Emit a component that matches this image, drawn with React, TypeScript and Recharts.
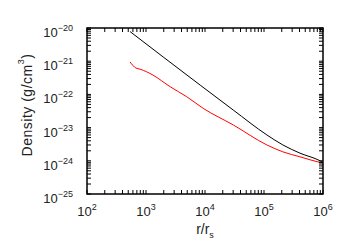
import React from 'react';
import { LineChart, Line, XAxis, YAxis, ReferenceArea } from 'recharts';

// radius in units of r_s, density in g/cm^3
const blackR = [537, 2000, 8300, 30000, 112000, 209000, 407000, 891000, 1000000];
const blackDensity = [7.8e-21, 1.3e-21, 1.9e-22, 3.4e-23, 6.0e-24, 3.0e-24, 1.7e-24, 1.0e-24, 8.9e-25];

const redR = [537, 676, 794, 1023, 1318, 2570, 4900, 9330, 30200, 112000, 209000, 407000, 891000, 1000000];
const redDensity = [9.5e-22, 6.2e-22, 5.75e-22, 4.8e-22, 3.8e-22, 1.7e-22, 8.5e-23, 3.8e-23, 1.2e-23, 3.0e-24, 1.86e-24, 1.32e-24, 8.9e-25, 8.5e-25];

const xMajor = [1e2, 1e3, 1e4, 1e5, 1e6];
const xExponents = ['2', '3', '4', '5', '6'];
const yMajor = [1e-25, 1e-24, 1e-23, 1e-22, 1e-21, 1e-20];
const yExponents = ['\u221225', '\u221224', '\u221223', '\u221222', '\u221221', '\u221220'];

const minorSteps = [2, 3, 4, 5, 6, 7, 8, 9];
const withMinor = (major: number[]) => {
  const out: number[] = [];
  major.forEach((m, i) => {
    out.push(m);
    if (i < major.length - 1) minorSteps.forEach((s) => out.push(m * s));
  });
  return out;
};
const xTicks = withMinor(xMajor);
const yTicks = withMinor(yMajor);

const blackData = blackR.map((r, i) => ({ r, d: blackDensity[i] }));
const redData = redR.map((r, i) => ({ r, d: redDensity[i] }));

const font = '"Liberation Sans", Arial, sans-serif';
const TICK = -4; // negative size draws tick marks inward

const majorIndex = (v: number, list: number[]) =>
  list.findIndex((m) => Math.abs(Math.log10(v) - Math.log10(m)) < 1e-6);

const XLabel = (props: any) => {
  const { x, y, payload } = props;
  const idx = majorIndex(payload.value, xMajor);
  if (idx < 0) return <g />;
  return (
    <text x={x} y={y + 22 + TICK * -1} textAnchor="middle" fontSize={13} fontFamily={font} fill="#222">
      10<tspan dy={-6} fontSize={9}>{xExponents[idx]}</tspan>
    </text>
  );
};

const YLabel = (props: any) => {
  const { x, y, payload } = props;
  const idx = majorIndex(payload.value, yMajor);
  if (idx < 0) return <g />;
  return (
    <text x={x - 14 + TICK} y={y + 9} textAnchor="end" fontSize={13} fontFamily={font} fill="#222">
      10<tspan dy={-6} fontSize={9}>{yExponents[idx]}</tspan>
    </text>
  );
};

const Blank = () => <g />;

export default function App() {
  return (
    <div style={{ position: 'absolute', left: 0, top: 0, width: 350, height: 250, background: '#fff' }}>
      <LineChart width={350} height={250} margin={{ top: 27, right: 26, bottom: 0, left: 0 }}>
        <XAxis
          xAxisId="b"
          dataKey="r"
          type="number"
          scale="log"
          domain={[1e2, 1e6]}
          allowDataOverflow
          ticks={xTicks}
          interval={0}
          height={56}
          tickSize={TICK}
          tickMargin={0}
          stroke="#000"
          axisLine={false}
          tick={<XLabel />}
        />
        <XAxis
          xAxisId="t"
          orientation="top"
          dataKey="r"
          type="number"
          scale="log"
          domain={[1e2, 1e6]}
          allowDataOverflow
          ticks={xTicks}
          interval={0}
          height={1}
          tickSize={TICK}
          tickMargin={0}
          stroke="#000"
          axisLine={false}
          tick={<Blank />}
        />
        <YAxis
          yAxisId="l"
          type="number"
          scale="log"
          domain={[1e-25, 1e-20]}
          allowDataOverflow
          ticks={yTicks}
          interval={0}
          width={87}
          tickSize={TICK}
          tickMargin={0}
          stroke="#000"
          axisLine={false}
          tick={<YLabel />}
        />
        <YAxis
          yAxisId="r"
          orientation="right"
          type="number"
          scale="log"
          domain={[1e-25, 1e-20]}
          allowDataOverflow
          ticks={yTicks}
          interval={0}
          width={1}
          tickSize={TICK}
          tickMargin={0}
          stroke="#000"
          axisLine={false}
          tick={<Blank />}
        />
        <ReferenceArea
          xAxisId="b"
          yAxisId="l"
          x1={1e2}
          x2={1e6}
          y1={1e-25}
          y2={1e-20}
          fill="none"
          fillOpacity={0}
          stroke="#000"
          strokeWidth={1.5}
          strokeOpacity={1}
        />
        <Line
          xAxisId="b"
          yAxisId="l"
          data={blackData}
          dataKey="d"
          type="monotone"
          stroke="#000"
          strokeWidth={1}
          dot={false}
          isAnimationActive={false}
        />
        <Line
          xAxisId="b"
          yAxisId="l"
          data={redData}
          dataKey="d"
          type="monotone"
          stroke="#ff0000"
          strokeWidth={1}
          dot={false}
          isAnimationActive={false}
        />
      </LineChart>
      <svg width={350} height={250} style={{ position: 'absolute', left: 0, top: 0, pointerEvents: 'none' }}>
        <text
          x={28}
          y={105}
          transform="rotate(-90 28 105)"
          textAnchor="middle"
          dominantBaseline="middle"
          fontSize={14}
          fontFamily={font}
          letterSpacing={0.5}
          fill="#222"
        >
          Density (g/cm<tspan dy={-6} fontSize={9}>3</tspan>
          <tspan dy={6}>)</tspan>
        </text>
        <text x={205} y={234} textAnchor="middle" fontSize={14} fontFamily={font} fill="#222">
          r/r<tspan dy={4} fontSize={9}>s</tspan>
        </text>
      </svg>
    </div>
  );
}
